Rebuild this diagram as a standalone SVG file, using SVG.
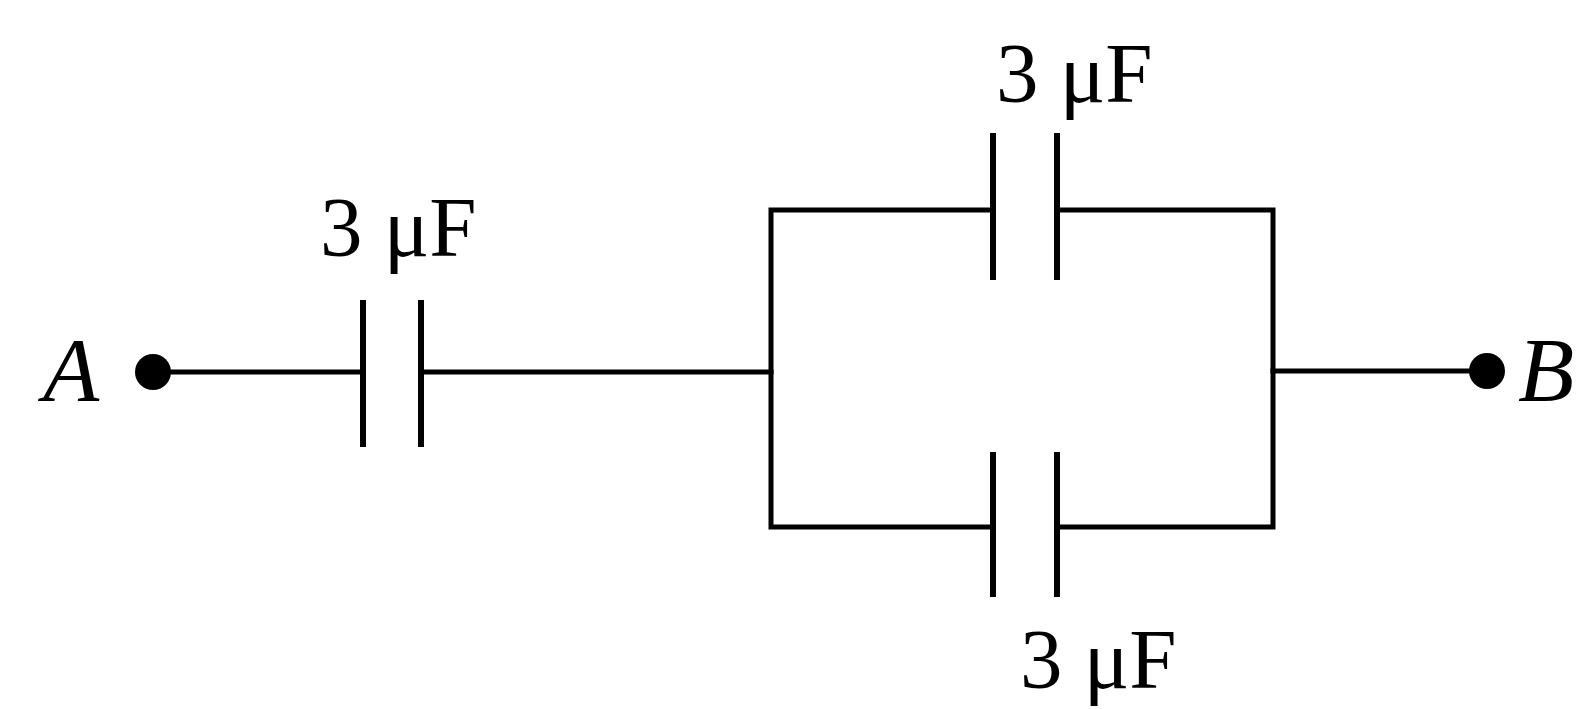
<svg xmlns="http://www.w3.org/2000/svg" width="1577" height="709" viewBox="0 0 1577 709">
<style>
.wire{fill:none;stroke:#000;stroke-width:5;stroke-linejoin:miter;stroke-linecap:square}
.plate{stroke:#000;stroke-width:6;stroke-linecap:butt}
.lbl{font-family:"Liberation Serif","Times New Roman",serif;font-size:85px;fill:#000}
.term{font-family:"Liberation Serif","Times New Roman",serif;font-size:92px;font-style:italic;fill:#000}
.dot{fill:#000}
</style>
<rect width="1577" height="709" fill="#fff"/>
<g id="connectors">
<path class="wire" d="M153,372 H363"/>
<path class="wire" d="M421,372 H771"/>
<path class="wire" d="M993,210 H771 V527 H993"/>
<path class="wire" d="M1057,210 H1273 V527 H1057"/>
<path class="wire" d="M1273,371 H1487"/>
</g>
<g id="terminalA">
<circle class="dot" cx="153" cy="372" r="18"/>
<text class="term" x="43" y="401">A</text>
</g>
<g id="terminalB">
<circle class="dot" cx="1487" cy="371" r="18"/>
<text class="term" x="1518" y="401">B</text>
</g>
<g id="C1">
<line class="plate" x1="363" y1="300" x2="363" y2="447"/>
<line class="plate" x1="421" y1="300" x2="421" y2="447"/>
<text class="lbl" x="320" y="256">3 μF</text>
</g>
<g id="C2">
<line class="plate" x1="993" y1="133" x2="993" y2="280"/>
<line class="plate" x1="1057" y1="133" x2="1057" y2="280"/>
<text class="lbl" x="996" y="102">3 μF</text>
</g>
<g id="C3">
<line class="plate" x1="993" y1="452" x2="993" y2="597"/>
<line class="plate" x1="1057" y1="452" x2="1057" y2="597"/>
<text class="lbl" x="1020" y="688">3 μF</text>
</g>
</svg>
